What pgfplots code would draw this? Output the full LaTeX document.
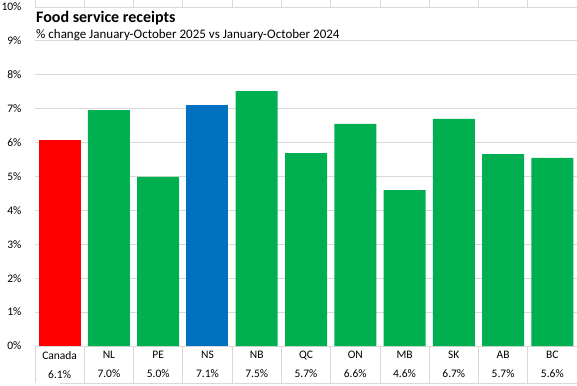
\documentclass[border=0pt]{standalone}
\usepackage{pgfplots}
\pgfplotsset{compat=1.18}
\usepackage{fontspec}
\setmainfont{Carlito}
\definecolor{cred}{HTML}{FF0000}
\definecolor{cgreen}{HTML}{00B050}
\definecolor{cblue}{HTML}{0070C0}
\definecolor{cgrid}{HTML}{D9D9D9}
\begin{document}
\begin{tikzpicture}
\useasboundingbox (-35pt,-39pt) rectangle (542pt,346pt);
\begin{axis}[
  scale only axis,
  width=542pt, height=339pt,
  xmin=-0.5, xmax=10.5,
  ymin=0, ymax=10,
  ytick={0,1,...,10},
  yticklabel={\pgfmathprintnumber{\tick}\%},
  yticklabel style={font=\fontsize{11.5}{13}\selectfont, anchor=east, xshift=-10pt},
  /pgf/number format/assume math mode=true,
  ymajorgrids,
  grid style={cgrid, line width=0.8pt},
  axis line style={draw=none},
  major tick length=0pt,
  xtick={0,1,...,10},
  xticklabels={{Canada\\6.1\%},{NL\\7.0\%},{PE\\5.0\%},{NS\\7.1\%},{NB\\7.5\%},{QC\\5.7\%},{ON\\6.6\%},{MB\\4.6\%},{SK\\6.7\%},{AB\\5.7\%},{BC\\5.6\%}},
  xticklabel style={align=center, font=\fontsize{11.5}{19}\selectfont, yshift=-2pt},
  extra x ticks={-0.5,0.5,1.5,2.5,3.5,4.5,5.5,6.5,7.5,8.5,9.5,10.5},
  extra x tick labels={},
  extra x tick style={major tick length=37pt, tick align=outside, tick style={cgrid, line width=0.8pt}, grid=none},
  ybar, bar width=42pt, bar shift=0pt,
  clip=false,
]
\addplot[fill=cred, draw=none] coordinates {(0,6.08)};
\addplot[fill=cgreen, draw=none] coordinates {(1,6.96) (2,4.99) (4,7.52) (5,5.69) (6,6.55) (7,4.6) (8,6.70) (9,5.66) (10,5.55)};
\addplot[fill=cblue, draw=none] coordinates {(3,7.11)};
\draw[cgrid, line width=0.8pt] (rel axis cs:0,0) ++(0,-37pt) -- ([yshift=-37pt]rel axis cs:1,0);
\node[anchor=base west, font=\fontsize{16}{18}\selectfont\bfseries, inner sep=0pt] at ([xshift=1pt,yshift=-16pt]rel axis cs:0,1) {Food service receipts};
\node[anchor=base west, font=\fontsize{13}{15}\selectfont, inner sep=0pt] at ([xshift=1pt,yshift=-32pt]rel axis cs:0,1) {\% change January-October 2025 vs January-October 2024};
\end{axis}
\end{tikzpicture}
\end{document}
